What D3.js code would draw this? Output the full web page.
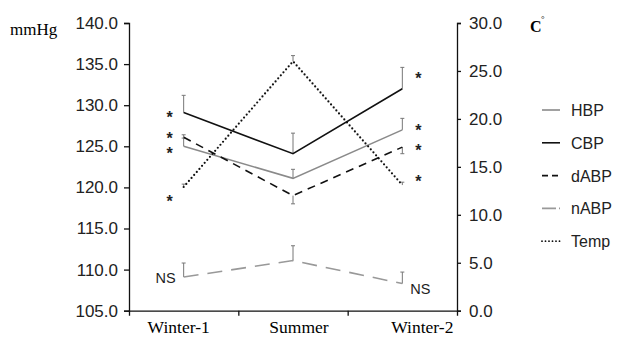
<!DOCTYPE html>
<html>
<head>
<meta charset="utf-8">
<script src="https://cdn.jsdelivr.net/npm/d3@7"></script>
<style>
  body { margin: 0; background: #fff; }
  svg { display: block; }
  .tick text { font-family: "Liberation Sans", Arial, sans-serif; font-size: 17px; fill: #222; }
  .serif { font-family: "Liberation Serif", "Times New Roman", serif; }
  .sans { font-family: "Liberation Sans", Arial, sans-serif; fill: #222; }
</style>
</head>
<body>
<div id="chart"></div>
<script>
// data
const categories = ["Winter-1", "Summer", "Winter-2"];
const hbp = [125.0, 121.1, 127.0];
const hbpErr = [1.0, 1.1, 1.4];
const cbp = [129.1, 124.1, 132.0];
const cbpErr = [2.1, 2.5, 2.6];
const dabp = [126.1, 119.0, 124.9];
const dabpErr = [0.3, -1.0, -0.8];   // negative = bar drawn downward
const nabp = [109.1, 111.1, 108.3];
const nabpErr = [1.7, 1.8, 1.4];
const temp = [12.9, 26.0, 13.1];     // right axis, C
const tempErr = [0.3, 0.6, 0.3];
const leftTicks = [105, 110, 115, 120, 125, 130, 135, 140];
const rightTicks = [0, 5, 10, 15, 20, 25, 30];
// significance marks: category, axis, level
const stars = [
  ["Winter-1", "L", 128.9], ["Winter-1", "L", 126.4], ["Winter-1", "L", 124.55], ["Winter-1", "R", 11.7],
  ["Winter-2", "L", 133.7], ["Winter-2", "L", 127.4], ["Winter-2", "L", 124.9], ["Winter-2", "R", 13.8]
];
const nsMarks = [["Winter-1", 108.4], ["Winter-2", 107.0]];

const W = 621, H = 337;
const svg = d3.select("#chart").append("svg").attr("width", W).attr("height", H);

const x = d3.scaleBand().domain(categories).range([129, 457]);
const cx = (c) => x(c) + x.bandwidth() / 2;
const yL = d3.scaleLinear().domain([105, 140]).range([310.7, 23]);
const yR = d3.scaleLinear().domain([0, 30]).range([310.7, 23]);

// axes
svg.append("g")
    .attr("transform", "translate(129,0)")
    .call(d3.axisLeft(yL).tickValues(leftTicks).tickFormat(d3.format(".1f")).tickSize(5).tickPadding(6));

svg.append("g")
    .attr("transform", "translate(457,0)")
    .call(d3.axisRight(yR).tickValues(rightTicks).tickFormat(d3.format(".1f")).tickSize(4).tickPadding(8));

const xb = d3.scaleLinear().domain([0, categories.length]).range([129, 457]);
svg.append("g")
    .attr("transform", "translate(0,310.7)")
    .call(d3.axisBottom(xb).tickValues([1, 2]).tickFormat("").tickSize(5));

svg.selectAll(".domain, .tick line").attr("stroke", "#111").attr("stroke-width", 1.3);

// category labels (slightly off-centre in the original)
const labelDx = [-5, 6, 20];
svg.selectAll(".cat").data(categories).enter().append("text")
    .attr("class", "serif")
    .attr("x", (d, i) => cx(d) + labelDx[i])
    .attr("y", 333)
    .attr("text-anchor", "middle")
    .style("font-size", "17.5px")
    .text((d) => d);

svg.append("text").attr("class", "serif").attr("x", 10).attr("y", 35)
    .style("font-size", "17px").text("mmHg");
svg.append("text").attr("class", "serif").attr("x", 530).attr("y", 32)
    .style("font-size", "16px").style("font-weight", "bold").text("C");
svg.append("text").attr("class", "serif").attr("x", 541).attr("y", 22)
    .style("font-size", "9px").text("°");

const series = [
  { name: "HBP", v: hbp, e: hbpErr, y: yL, color: "#8a8a8a", dash: null, w: 1.6 },
  { name: "CBP", v: cbp, e: cbpErr, y: yL, color: "#111", dash: null, w: 1.6 },
  { name: "dABP", v: dabp, e: dabpErr, y: yL, color: "#111", dash: "8,6", w: 1.6 },
  { name: "nABP", v: nabp, e: nabpErr, y: yL, color: "#999", dash: "15,9", w: 1.6 },
  { name: "Temp", v: temp, e: tempErr, y: yR, color: "#111", dash: "0,4", w: 2.2, cap: "round" }
];

// error bars
const errG = svg.append("g").attr("stroke", "#777").attr("stroke-width", 1);
series.forEach((s) => {
  categories.forEach((c, i) => {
    const y0 = s.y(s.v[i]), y1 = s.y(s.v[i] + s.e[i]), xc = cx(c);
    errG.append("line").attr("x1", xc).attr("x2", xc).attr("y1", y0).attr("y2", y1);
    errG.append("line").attr("x1", xc - 2).attr("x2", xc + 2).attr("y1", y1).attr("y2", y1);
  });
});

// lines
series.forEach((s) => {
  const line = d3.line().x((d, i) => cx(categories[i])).y((d) => s.y(d));
  svg.append("path")
      .datum(s.v)
      .attr("fill", "none")
      .attr("stroke", s.color)
      .attr("stroke-width", s.w)
      .attr("stroke-dasharray", s.dash)
      .attr("stroke-linecap", s.cap || "butt")
      .attr("d", line);
});

// significance marks
svg.selectAll(".star").data(stars).enter().append("text")
    .attr("class", "sans")
    .attr("x", (d) => cx(d[0]) + (d[0] === "Winter-1" ? -14 : 16))
    .attr("y", (d) => (d[1] === "L" ? yL(d[2]) : yR(d[2])) + 9)
    .attr("text-anchor", "middle")
    .style("font-size", "16px")
    .style("font-weight", "bold")
    .text("*");

svg.selectAll(".ns").data(nsMarks).enter().append("text")
    .attr("class", "sans")
    .attr("x", (d) => cx(d[0]) + (d[0] === "Winter-1" ? -8 : 8))
    .attr("y", (d) => yL(d[1]))
    .attr("text-anchor", (d) => (d[0] === "Winter-1" ? "end" : "start"))
    .style("font-size", "14.5px")
    .text("NS");

// legend
const leg = svg.append("g").attr("transform", "translate(542,110)");
series.forEach((s, i) => {
  const g = leg.append("g").attr("transform", `translate(0,${i * 32.8})`);
  g.append("line").attr("x1", 0).attr("x2", 18).attr("y1", 0).attr("y2", 0)
      .attr("stroke", s.color).attr("stroke-width", s.name === "Temp" ? 1.8 : 1.6)
      .attr("stroke-dasharray", s.name === "dABP" ? "6,4" : s.name === "nABP" ? "14,3" : s.name === "Temp" ? "0,3.5" : null)
      .attr("stroke-linecap", s.cap || "butt");
  g.append("text").attr("class", "sans").attr("x", 29).attr("y", 6)
      .style("font-size", "16px").text(s.name);
});
</script>
</body>
</html>
